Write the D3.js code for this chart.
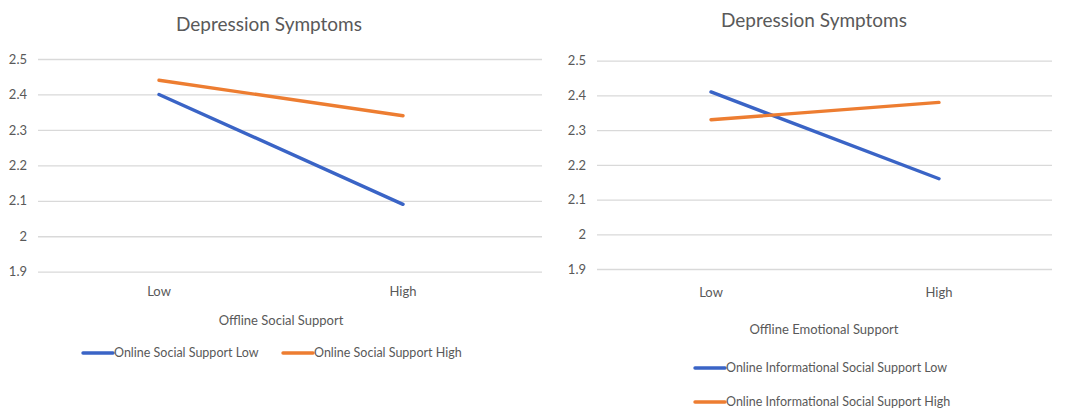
<!DOCTYPE html>
<html>
<head>
<meta charset="utf-8">
<script src="https://cdn.jsdelivr.net/npm/d3@7"></script>
<style>
  html, body { margin: 0; padding: 0; background: #fff; }
  svg text { font-family: Lato, "Open Sans", sans-serif; fill: #595959; }
</style>
</head>
<body>
<div id="chart"></div>
<script>
const categories = ["Low", "High"];
const yTicks = [1.9, 2, 2.1, 2.2, 2.3, 2.4, 2.5];

const titleText = "Depression Symptoms";

const leftXTitle = "Offline Social Support";
const leftSeriesNames = ["Online Social Support Low", "Online Social Support High"];
const leftLowValues = [2.40, 2.09];
const leftHighValues = [2.44, 2.34];

const rightXTitle = "Offline Emotional Support";
const rightSeriesNames = ["Online Informational Social Support Low", "Online Informational Social Support High"];
const rightLowValues = [2.41, 2.16];
const rightHighValues = [2.33, 2.38];

const colors = ["#3a64c6", "#ed7d31"];

const width = 1084;
const height = 415;

const svg = d3.select("#chart")
    .append("svg")
    .attr("width", width)
    .attr("height", height);

// one panel per chart, layout
const panels = [
    {
        gridLeft: 38, gridRight: 542, pointLeft: 159, pointRight: 403,
        top: 59, bottom: 271.7, titleX: 269, titleY: 31,
        tickLabelX: 27, xLabelY: 296, xTitleX: 281, xTitleY: 325,
        xTitle: leftXTitle, names: leftSeriesNames,
        values: [leftLowValues, leftHighValues],
        legend: [{ x: 83, y: 353 }, { x: 283, y: 353 }]
    },
    {
        gridLeft: 597, gridRight: 1052, pointLeft: 711, pointRight: 939,
        top: 60.7, bottom: 269, titleX: 814, titleY: 27,
        tickLabelX: 586, xLabelY: 297, xTitleX: 824, xTitleY: 334,
        xTitle: rightXTitle, names: rightSeriesNames,
        values: [rightLowValues, rightHighValues],
        legend: [{ x: 695, y: 368 }, { x: 695, y: 402 }]
    }
];

panels.forEach(p => {
    const g = svg.append("g");

    const x = d3.scalePoint()
        .domain(categories)
        .range([p.pointLeft, p.pointRight]);

    const y = d3.scaleLinear()
        .domain([d3.min(yTicks), d3.max(yTicks)])
        .range([p.bottom, p.top]);

    g.append("text")
        .attr("x", p.titleX)
        .attr("y", p.titleY)
        .attr("text-anchor", "middle")
        .style("font-size", "19px")
        .text(titleText);

    // gridlines + y labels
    g.append("g")
        .attr("transform", `translate(${p.gridLeft},0)`)
        .call(d3.axisLeft(y)
            .tickValues(yTicks)
            .tickFormat(d => String(d))
            .tickSize(-(p.gridRight - p.gridLeft))
            .tickPadding(p.gridLeft - p.tickLabelX))
        .call(a => a.select(".domain").remove())
        .call(a => a.selectAll(".tick line").attr("stroke", "#d9d9d9").attr("stroke-width", 1.3))
        .call(a => a.selectAll(".tick text")
            .attr("fill", "#595959")
            .style("font-size", "13px")
            .style("font-family", "Lato, sans-serif"));

    // category labels
    g.selectAll(".xlab")
        .data(categories)
        .join("text")
        .attr("x", d => x(d))
        .attr("y", p.xLabelY)
        .attr("text-anchor", "middle")
        .style("font-size", "13px")
        .text(d => d);

    g.append("text")
        .attr("x", p.xTitleX)
        .attr("y", p.xTitleY)
        .attr("text-anchor", "middle")
        .style("font-size", "13px")
        .text(p.xTitle);

    const line = d3.line()
        .x((d, i) => x(categories[i]))
        .y(d => y(d));

    p.values.forEach((vals, i) => {
        g.append("path")
            .datum(vals)
            .attr("fill", "none")
            .attr("stroke", colors[i])
            .attr("stroke-width", 3.4)
            .attr("stroke-linecap", "round")
            .attr("d", line);
    });

    // legend
    p.names.forEach((name, i) => {
        const l = p.legend[i];
        g.append("line")
            .attr("x1", l.x).attr("x2", l.x + 30)
            .attr("y1", l.y).attr("y2", l.y)
            .attr("stroke", colors[i])
            .attr("stroke-width", 3.4)
            .attr("stroke-linecap", "round");
        g.append("text")
            .attr("x", l.x + 31)
            .attr("y", l.y)
            .attr("dy", "0.35em")
            .style("font-size", "12.5px")
            .text(name);
    });
});
</script>
</body>
</html>
